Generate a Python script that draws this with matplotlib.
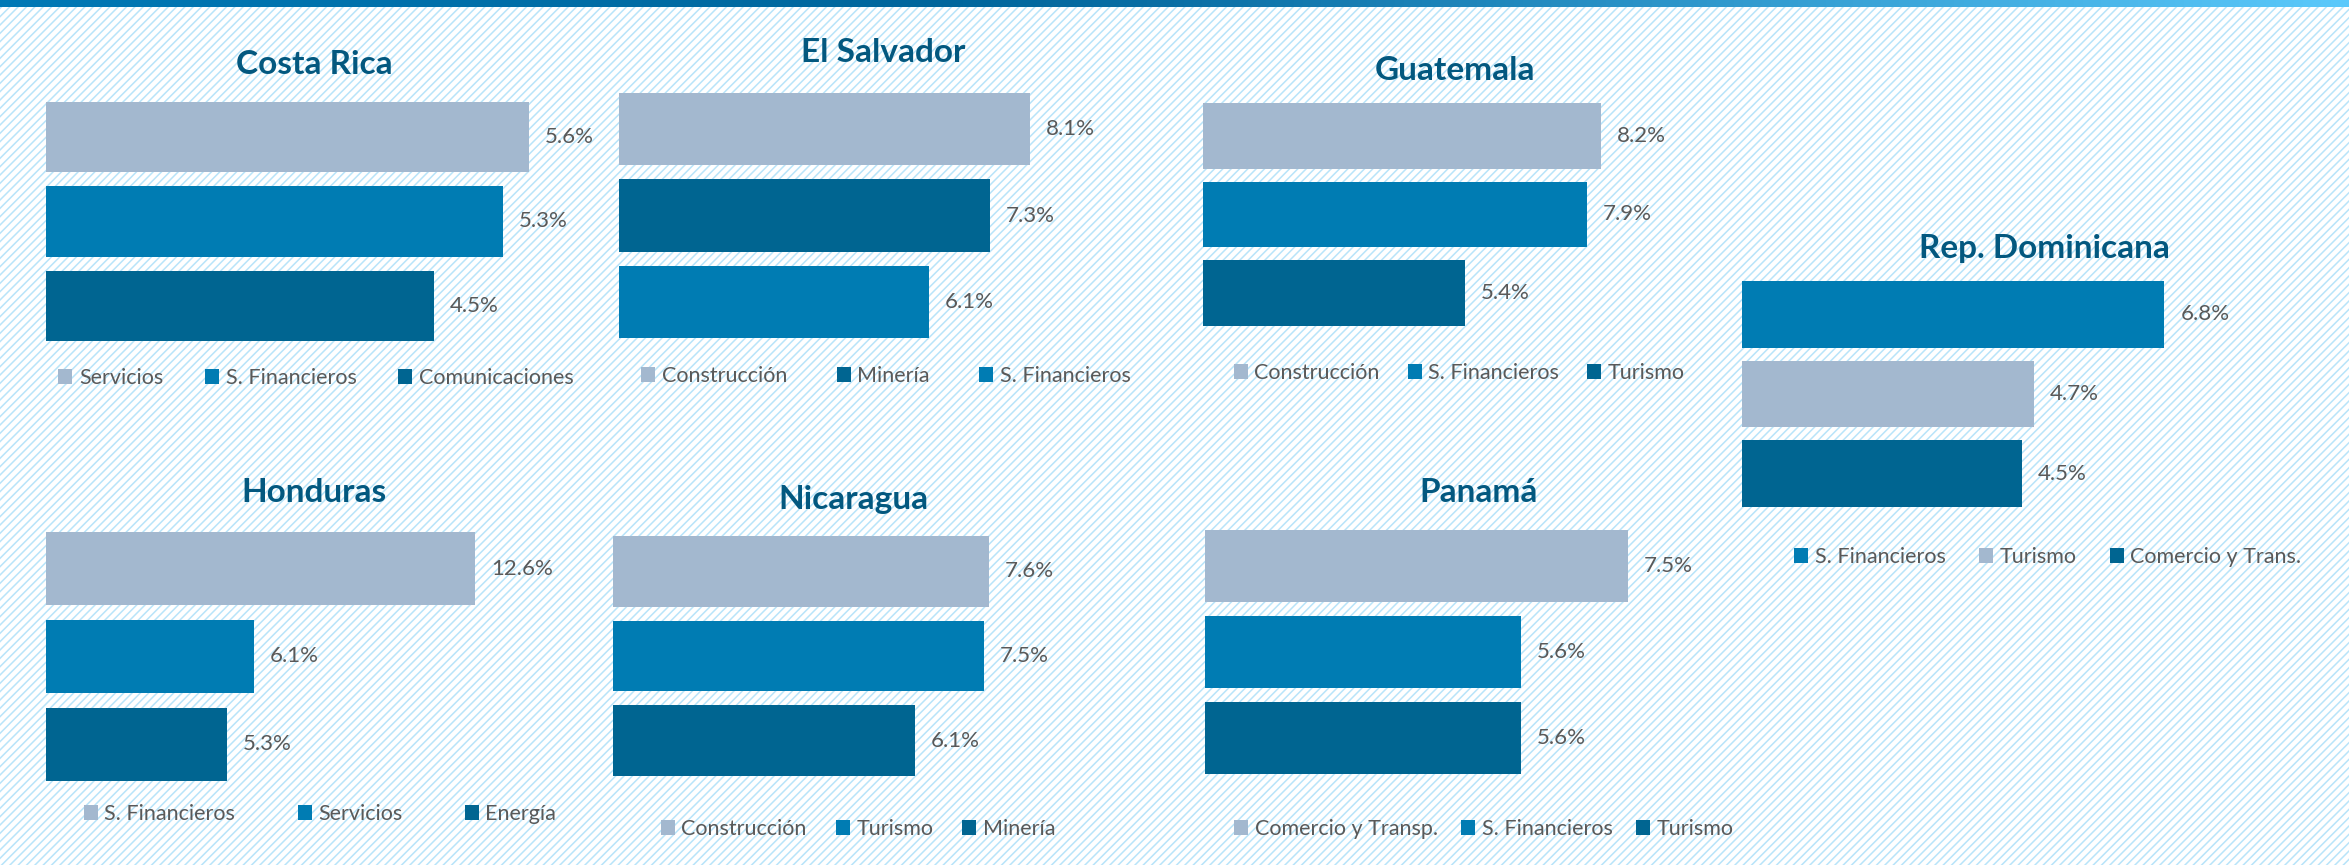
import matplotlib.pyplot as plt
import numpy as np
from matplotlib.patches import Rectangle, Patch
from matplotlib.colors import LinearSegmentedColormap

plt.rcParams['font.family'] = ['Lato', 'DejaVu Sans']
plt.rcParams['hatch.linewidth'] = 1.1

# datos: tres sectores de mayor crecimiento por país (%)
paises = ["Costa Rica", "El Salvador", "Guatemala", "Rep. Dominicana",
          "Honduras", "Nicaragua", "Panamá"]
sectores_cr = ["Servicios", "S. Financieros", "Comunicaciones"]
sectores_sv = ["Construcción", "Minería", "S. Financieros"]
sectores_gt = ["Construcción", "S. Financieros", "Turismo"]
sectores_rd = ["S. Financieros", "Turismo", "Comercio y Trans."]
sectores_hn = ["S. Financieros", "Servicios", "Energía"]
sectores_ni = ["Construcción", "Turismo", "Minería"]
sectores_pa = ["Comercio y Transp.", "S. Financieros", "Turismo"]
valores_cr = [5.6, 5.3, 4.5]
valores_sv = [8.1, 7.3, 6.1]
valores_gt = [8.2, 7.9, 5.4]
valores_rd = [6.8, 4.7, 4.5]
valores_hn = [12.6, 6.1, 5.3]
valores_ni = [7.6, 7.5, 6.1]
valores_pa = [7.5, 5.6, 5.6]

sectores = [sectores_cr, sectores_sv, sectores_gt, sectores_rd,
            sectores_hn, sectores_ni, sectores_pa]
valores = [valores_cr, valores_sv, valores_gt, valores_rd,
           valores_hn, valores_ni, valores_pa]

# colores
CLARO, MEDIO, OSCURO = '#a3b8cf', '#007cb3', '#006591'
colores = [
    [CLARO, MEDIO, OSCURO],
    [CLARO, OSCURO, MEDIO],
    [CLARO, MEDIO, OSCURO],
    [MEDIO, CLARO, OSCURO],
    [CLARO, MEDIO, OSCURO],
    [CLARO, MEDIO, OSCURO],
    [CLARO, MEDIO, OSCURO],
]
TITULO = '#03587f'
GRIS = '#595959'

# layout in pixels: x0, top of first bar, bottom of last bar, axes width, xmax,
# title centre, legend centre, legend column spacing
paneles = [
    (46, 102, 341, 517, 6, (314, 65), (316, 378), 1.95),
    (619, 93, 338, 457, 9, (883, 53), (886, 376), 2.3),
    (1203, 103, 326, 437, 9, (1455, 71), (1459, 373), 1.3),
    (1742, 281, 507, 497, 8, (2044, 248), (2048, 557), 1.55),
    (46, 532, 781, 477, 14, (314, 492), (320, 814), 2.9),
    (613, 536, 776, 445, 9, (853, 500), (858, 829), 1.35),
    (1205, 530, 774, 451, 8, (1479, 492), (1484, 829), 1.1),
]

W, H = 2349, 865
fig = plt.figure(figsize=(W / 100, H / 100), dpi=100)

# fondo rayado y barra superior
bg = fig.add_axes([0, 0, 1, 1])
bg.add_patch(Rectangle((0, 0), W, H, facecolor='white', edgecolor='#b8e4f9',
                       hatch='////', linewidth=0))
grad = LinearSegmentedColormap.from_list(
    'top', [(0, '#0079b6'), (0.4, '#00669c'), (0.5, '#0a6fa5'), (1, '#5bc9fb')])
bg.imshow(np.linspace(0, 1, 512)[None, :], cmap=grad, aspect='auto',
          extent=(0, W, 7, 0), zorder=3)
bg.set_xlim(0, W)
bg.set_ylim(H, 0)
bg.axis('off')

h = 0.835
for i, pais in enumerate(paises):
    x0, top, bot, width, xmax, (tx, ty), (lx, ly), colsp = paneles[i]
    vals = valores[i]
    cols = colores[i]
    pitch = (bot - top) / (2 + h)
    ax_top = top - pitch * (1 - h) / 2
    ax_bot = bot + pitch * (1 - h) / 2
    ax = fig.add_axes([x0 / W, 1 - ax_bot / H, width / W, (ax_bot - ax_top) / H])
    bars = ax.barh(range(3), vals, height=h, color=cols)
    ax.bar_label(bars, labels=[f"{v:.1f}%" for v in vals], padding=11.5,
                 fontsize=16, color=GRIS)
    ax.set_xlim(0, xmax)
    ax.set_ylim(2.5, -0.5)
    ax.axis('off')

    fig.text(tx / W, 1 - ty / H, pais, ha='center', va='center',
             fontsize=24, fontweight='bold', color=TITULO)
    fig.legend(handles=[Patch(facecolor=c) for c in cols], labels=sectores[i],
               loc='center', bbox_to_anchor=(lx / W, 1 - ly / H), ncol=3,
               frameon=False, fontsize=15.5, labelcolor=GRIS,
               handlelength=0.65, handleheight=0.65, handletextpad=0.3,
               columnspacing=colsp)

fig.savefig('out.png', dpi=100)
